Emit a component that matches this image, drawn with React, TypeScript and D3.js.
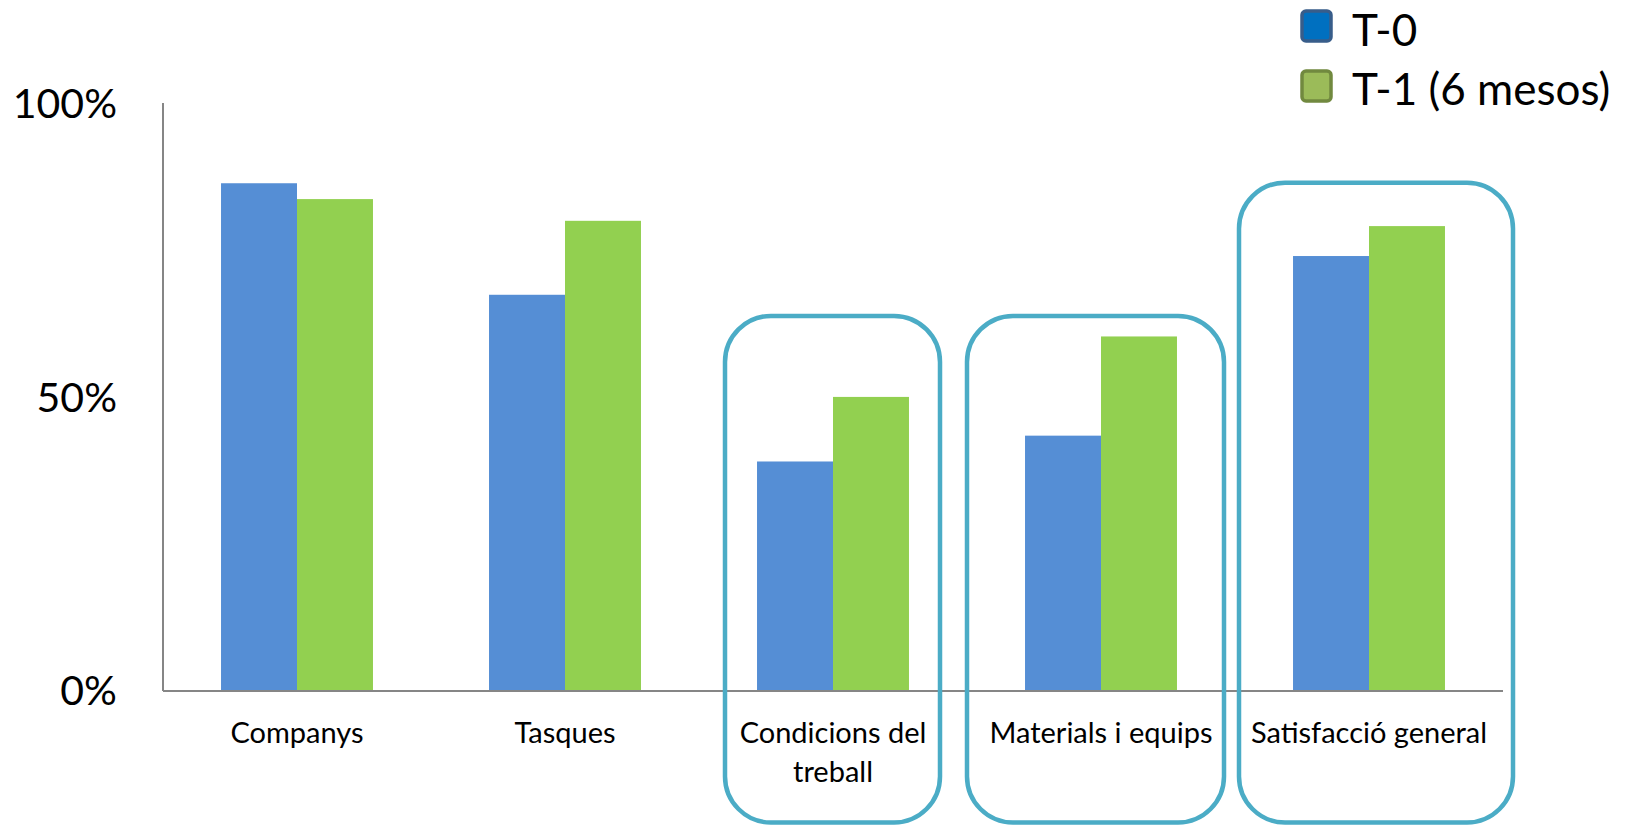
import React from "react";
import * as d3 from "d3";

const categories = ["Companys", "Tasques", "Condicions del treball", "Materials i equips", "Satisfacció general"];
const categoryLines = [["Companys"], ["Tasques"], ["Condicions del", "treball"], ["Materials i equips"], ["Satisfacció general"]];
const seriesNames = ["T-0", "T-1 (6 mesos)"];
const t0Values = [0.865, 0.675, 0.391, 0.435, 0.741];
const t1Values = [0.838, 0.801, 0.501, 0.604, 0.792];
const yTicks = [0, 0.5, 1];
const yTickLabels = ["0%", "50%", "100%"];
// highlighted categories: top of box (value), left/right offset from band centre
const highlights = [
  { cat: "Condicions del treball", top: 0.639, left: -108, right: 107 },
  { cat: "Materials i equips", top: 0.639, left: -134, right: 123 },
  { cat: "Satisfacció general", top: 0.866, left: -130, right: 144 },
];

const W = 1635;
const H = 825;
const FONT = "Lato, 'Open Sans', sans-serif";

export default function App() {
  const x0 = 163, x1 = 1503, yTop = 104, yBase = 691;
  const x = d3.scaleBand<string>().domain(categories).range([x0, x1]).paddingInner(0.433).paddingOuter(0.2165);
  const xs = d3.scaleBand<string>().domain(seriesNames).range([0, x.bandwidth()]);
  const y = d3.scaleLinear().domain([0, 1]).range([yBase, yTop]);
  const colors = ["#558ED5", "#92D050"];
  const series = [t0Values, t1Values];

  return (
    <svg width={W} height={H} style={{ position: "absolute", left: 0, top: 0 }}>
      <rect width={W} height={H} fill="#fff" />
      {/* bars */}
      {categories.map((c, i) =>
        series.map((vals, s) => (
          <rect
            key={c + s}
            x={(x(c) as number) + (xs(seriesNames[s]) as number)}
            y={y(vals[i])}
            width={xs.bandwidth()}
            height={yBase - y(vals[i])}
            fill={colors[s]}
          />
        ))
      )}
      {/* axes */}
      <line x1={x0} x2={x0} y1={yTop - 1} y2={yBase} stroke="#868686" strokeWidth={2} />
      <line x1={x0} x2={x1} y1={yBase} y2={yBase} stroke="#868686" strokeWidth={2} />
      {yTicks.map((t, i) => (
        <text key={t} x={117} y={y(t) + 14} textAnchor="end" fontFamily={FONT} fontSize={41} fill="#000">
          {yTickLabels[i]}
        </text>
      ))}
      {/* x labels */}
      {categories.map((c, i) => (
        <text key={c} textAnchor="middle" fontFamily={FONT} fontSize={29} fill="#000">
          {categoryLines[i].map((ln, k) => (
            <tspan key={k} x={(x(c) as number) + x.bandwidth() / 2} y={743 + k * 39}>
              {ln}
            </tspan>
          ))}
        </text>
      ))}
      {/* highlight boxes */}
      {highlights.map((h) => {
        const cx = (x(h.cat) as number) + x.bandwidth() / 2;
        const top = y(h.top);
        return (
          <rect
            key={h.cat}
            x={cx + h.left}
            y={top}
            width={h.right - h.left}
            height={822.5 - top}
            rx={46}
            ry={46}
            fill="none"
            stroke="#4BACC6"
            strokeWidth={4.5}
          />
        );
      })}
      {/* legend */}
      <rect x={1302} y={11} width={29} height={30} rx={4} fill="#0070C0" stroke="#385D8A" strokeWidth={3.5} />
      <text x={1352} y={46} fontFamily={FONT} fontSize={44} fill="#000">{seriesNames[0]}</text>
      <rect x={1302} y={71} width={29} height={30} rx={4} fill="#9BBB59" stroke="#71893F" strokeWidth={3.5} />
      <text x={1352} y={105} fontFamily={FONT} fontSize={44} fill="#000">{seriesNames[1]}</text>
    </svg>
  );
}
